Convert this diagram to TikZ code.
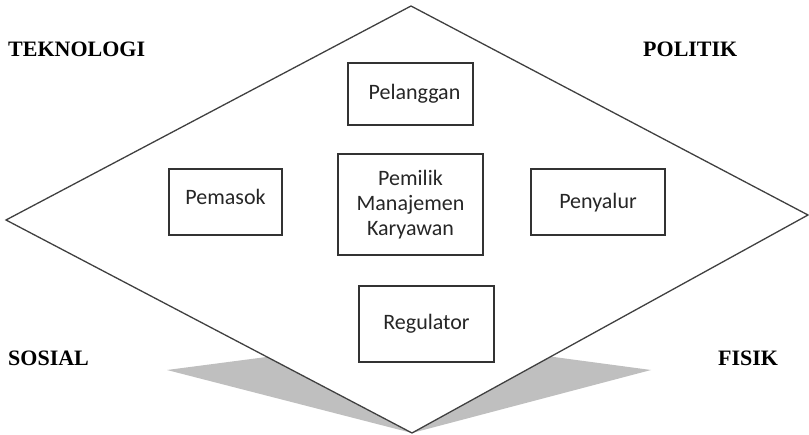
\documentclass[tikz,border=0pt]{standalone}
\usepackage{fontspec}
\setmainfont{Liberation Serif}
\newfontfamily\boxfont{Carlito}
\usetikzlibrary{positioning,calc}

\tikzset{
  rhombline/.style={draw=black!75, line width=1.3pt, fill=white, line join=miter},
  shadowfill/.style={fill=black!25, draw=none},
  actorbox/.style={draw=black!80, line width=1.3pt, fill=white, inner sep=0pt,
    font=\boxfont\fontsize{22}{25}\selectfont, text=black!85, align=center},
  forcelabel/.style={anchor=base west, inner sep=0pt,
    font=\bfseries\fontsize{22}{24}\selectfont},
}

\begin{document}
\begin{tikzpicture}[x=1pt, y=-1pt]
    \useasboundingbox (0,0) rectangle (809,435);

      \coordinate (sl) at (167,370);
      \coordinate (sb) at (412,338);
      \coordinate (sr) at (651,370);
      \coordinate (sf) at (412,433);

      \coordinate (dl) at (6,220);
      \coordinate (dt) at (411,6);
      \coordinate (dr) at (808,215);
      \coordinate (db) at (412,433);

      % shadow under the diamond
      \fill[shadowfill] (sl) -- (sb) -- (sr) -- (sf) -- cycle;
      \draw[rhombline] (dl) -- (dt) -- (dr) -- (db) -- cycle;

      \node[forcelabel] (teknologi) at (8,57) {TEKNOLOGI};
      \node[forcelabel] (politik) at (643,57) {POLITIK};
      \node[forcelabel] (sosial) at (8,366) {SOSIAL};
      \node[forcelabel] (fisik) at (718,366) {FISIK};

      \node[actorbox, minimum width=125, minimum height=62] (pelanggan)
        at (410.5,94) {\hspace*{8pt}Pelanggan};

      \node[actorbox, minimum width=145, minimum height=101] (pemilik)
        at (410.5,204.5) {Pemilik\\Manajemen\\Karyawan};

      \node[actorbox, minimum width=113, minimum height=66] (pemasok)
        at (225.5,202) {\raisebox{-3pt}[0pt][0pt]{Pemasok}};

      \node[actorbox, minimum width=134, minimum height=66] (penyalur)
        at (598,202) {\raisebox{-7pt}[0pt][0pt]{Penyalur}};

      \node[actorbox, minimum width=135, minimum height=76] (regulator)
        at (426.5,324) {Regulator};
\end{tikzpicture}
\end{document}
